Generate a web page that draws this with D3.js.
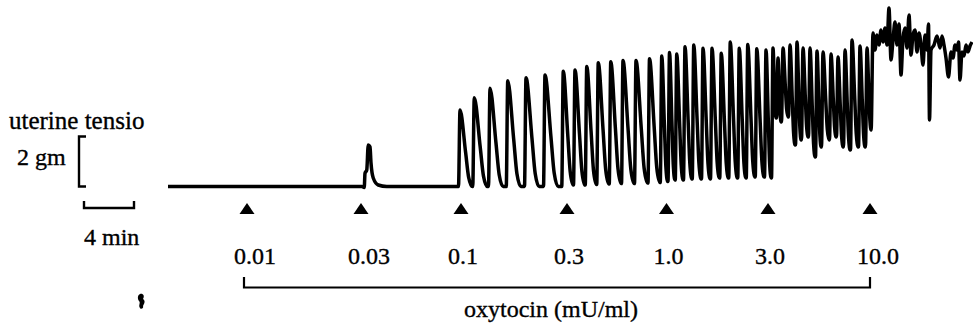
<!DOCTYPE html>
<html>
<head>
<meta charset="utf-8">
<script src="https://cdn.jsdelivr.net/npm/d3@7"></script>
<style>
  html, body { margin: 0; padding: 0; background: #fff; }
  svg { display: block; }
  text { font-family: "Liberation Serif", "Times New Roman", serif; fill: #000; stroke: #000; stroke-width: 0.35px; }
</style>
</head>
<body>
<svg id="chart" width="973" height="329"></svg>
<script>
// Oxytocin concentration steps (mU/ml) and the minute each one was added to the bath
const doseLabels = ["0.01", "0.03", "0.1", "0.3", "1.0", "3.0", "10.0"];
const doseTimes = [6.32, 15.44, 23.44, 31.92, 39.88, 48.0, 56.16];

// Quiet recording with the single small response to 0.03: [minute, tension gm]
const earlyTrace = [
  [0, 0], [15.52, 0], [15.70, -0.04], [15.76, 0.53], [15.90, 0.66], [16.02, 1.66],
  [16.16, 1.59], [16.24, 0.94], [16.42, 0.34], [16.82, 0.06], [17.50, 0]
];

// Phasic contractions: minute of each peak
const peakTimes = [
  23.36, 24.50, 25.76, 27.18, 28.64, 30.16, 31.62,
  32.56, 33.50, 34.42, 35.42, 36.40, 37.44, 38.52, 39.50,
  40.12, 40.70, 41.36, 42.06, 42.80, 43.52, 44.26, 44.98, 45.70, 46.38, 47.10, 47.84,
  48.40, 48.80, 49.20, 49.76, 50.32, 50.80, 51.36, 51.92, 52.40, 53.04, 53.60, 54.16, 54.72, 55.36, 55.92
];
// Peak tension of each contraction (gm)
const peakTension = [
  3.06, 3.55, 3.93, 4.23, 4.35, 4.46, 4.61,
  4.66, 4.80, 4.95, 4.99, 5.04, 5.04, 5.11, 5.22,
  5.36, 5.30, 5.59, 5.66, 5.53, 5.53, 5.33, 5.78, 5.53, 5.68, 5.51, 5.46,
  5.54, 5.14, 5.54, 5.66, 5.78, 5.54, 5.54, 5.42, 5.38, 5.30, 5.18, 5.46, 5.86, 5.62, 5.54
];
// Tension the muscle relaxes to after each contraction (gm)
const restTension = [
  0, 0, 0, 0, 0, 0, 0.06,
  0.06, 0.08, 0.10, 0.12, 0.12, 0.14, 0.16, 0.20,
  0.26, 0.26, 0.30, 0.30, 0.30, 0.34, 0.34, 0.34, 0.34, 0.38, 0.38, 0.34,
  2.74, 2.58, 2.78, 1.66, 1.86, 1.98, 1.18, 1.58, 1.86, 1.98, 1.58, 1.46, 1.58, 1.58, 2.26
];

// Sustained, irregular contracture at 10.0 mU/ml: [minute, tension gm]
const lateTrace = [
  [56.40, 6.14], [56.56, 5.46], [56.72, 6.06], [56.88, 5.66], [57.04, 6.26], [57.20, 5.78],
  [57.36, 6.34], [57.52, 5.66], [57.68, 7.14], [57.84, 5.06], [58.00, 5.86], [58.16, 6.58],
  [58.32, 5.66], [58.48, 6.50], [58.64, 4.46], [58.80, 5.94], [58.96, 6.34], [59.12, 5.54],
  [59.28, 6.86], [59.44, 5.26], [59.60, 6.06], [59.76, 6.26], [59.92, 5.38], [60.08, 6.14],
  [60.24, 5.66], [60.40, 4.86], [60.56, 6.06], [60.72, 5.46], [60.84, 6.50], [60.92, 2.66],
  [61.04, 5.46], [61.28, 5.66], [61.52, 6.02], [61.76, 5.54], [61.92, 6.02], [62.08, 5.66],
  [62.24, 5.14], [62.44, 4.38], [62.64, 5.38], [62.80, 5.14], [62.96, 5.66], [63.12, 5.46],
  [63.24, 5.78], [63.36, 4.26], [63.52, 5.38], [63.68, 5.22], [63.84, 5.66], [64.00, 5.38],
  [64.16, 5.62], [64.32, 5.78]
];

// Calibration bars
const barMinutes = 4;
const barGrams = 2;

const svg = d3.select("#chart");

// 12.5 px per minute, 25 px per gram
const x = d3.scaleLinear().domain([0, 64]).range([168, 968]);
const y = d3.scaleLinear().domain([0, 2]).range([186.5, 136.5]);

// Assemble the continuous record: quiet period, phasic contractions, contracture.
// Each contraction rises steeply from the previous resting level and relaxes
// back to its own resting level before the next one starts.
const trace = earlyTrace.slice();
let prevRest = 0;
const rise = 0.12;
for (let i = 0; i < peakTimes.length; i++) {
  const tp = peakTimes[i], pk = peakTension[i], rest = restTension[i];
  const next = i < peakTimes.length - 1 ? peakTimes[i + 1] : lateTrace[0][0];
  trace.push([tp - rise, prevRest]);
  trace.push([tp, pk]);
  const fall = Math.min(1.05, next - tp - rise - 0.03);
  const amp = pk - rest;
  trace.push([tp + 0.45 * fall, rest + 0.45 * amp]);
  trace.push([tp + 0.7 * fall, rest + 0.12 * amp]);
  trace.push([tp + fall, rest]);
  prevRest = rest;
}
lateTrace.forEach(p => trace.push(p));

const line = d3.line()
  .x(d => x(d[0]))
  .y(d => y(d[1]))
  .curve(d3.curveMonotoneX);

svg.append("path")
  .datum(trace)
  .attr("d", line)
  .attr("fill", "none")
  .attr("stroke", "#000")
  .attr("stroke-width", 3.5)
  .attr("stroke-linejoin", "round");

// Dose markers
const markerTop = 203, markerBottom = 214;
svg.selectAll("path.marker")
  .data(doseTimes)
  .join("path")
  .attr("class", "marker")
  .attr("d", t => `M${x(t) - 7.5},${markerBottom}L${x(t) + 7.5},${markerBottom}L${x(t)},${markerTop}Z`)
  .attr("fill", "#000");

// Dose labels
svg.selectAll("text.dose")
  .data(doseLabels)
  .join("text")
  .attr("class", "dose")
  .attr("x", (d, i) => x(doseTimes[i]) - 13)
  .attr("y", 264)
  .attr("font-size", 24)
  .text(d => d);

// Bracket spanning the dose series
const bx0 = x(doseTimes[0]) - 3, bx1 = x(doseTimes[doseTimes.length - 1]);
svg.append("path")
  .attr("d", `M${bx0},277V287.5H${bx1}V277`)
  .attr("fill", "none")
  .attr("stroke", "#000")
  .attr("stroke-width", 2.2);

svg.append("text")
  .attr("x", (bx0 + bx1) / 2 - 6)
  .attr("y", 317)
  .attr("text-anchor", "middle")
  .attr("font-size", 24)
  .text("oxytocin (mU/ml)");

// Tension calibration: 2 gm bracket
const cx = 79;
svg.append("path")
  .attr("d", `M${cx + 7},${y(barGrams)}H${cx}V${y(0)}H${cx + 7}`)
  .attr("fill", "none")
  .attr("stroke", "#000")
  .attr("stroke-width", 2.4);

svg.append("text")
  .attr("x", 9)
  .attr("y", 129)
  .attr("font-size", 25)
  .text("uterine tensio");

svg.append("text")
  .attr("x", 17)
  .attr("y", 165)
  .attr("font-size", 24)
  .text("2 gm");

// Time calibration: 4 min bar
const tbRight = 134;
const tbLeft = tbRight - (x(barMinutes) - x(0));
svg.append("path")
  .attr("d", `M${tbLeft},201V208H${tbRight}V201`)
  .attr("fill", "none")
  .attr("stroke", "#000")
  .attr("stroke-width", 2.4);

svg.append("text")
  .attr("x", 84)
  .attr("y", 245)
  .attr("font-size", 24)
  .text("4 min");

// Stray ink mark below the time bar
svg.append("path")
  .attr("d", "M140,294C143,293 145,296 143,299C146,301 144,304 143,306C144,308 141,310 140,308C138,305 141,303 139,301C137,298 138,295 140,294Z")
  .attr("fill", "#000");
</script>
</body>
</html>
